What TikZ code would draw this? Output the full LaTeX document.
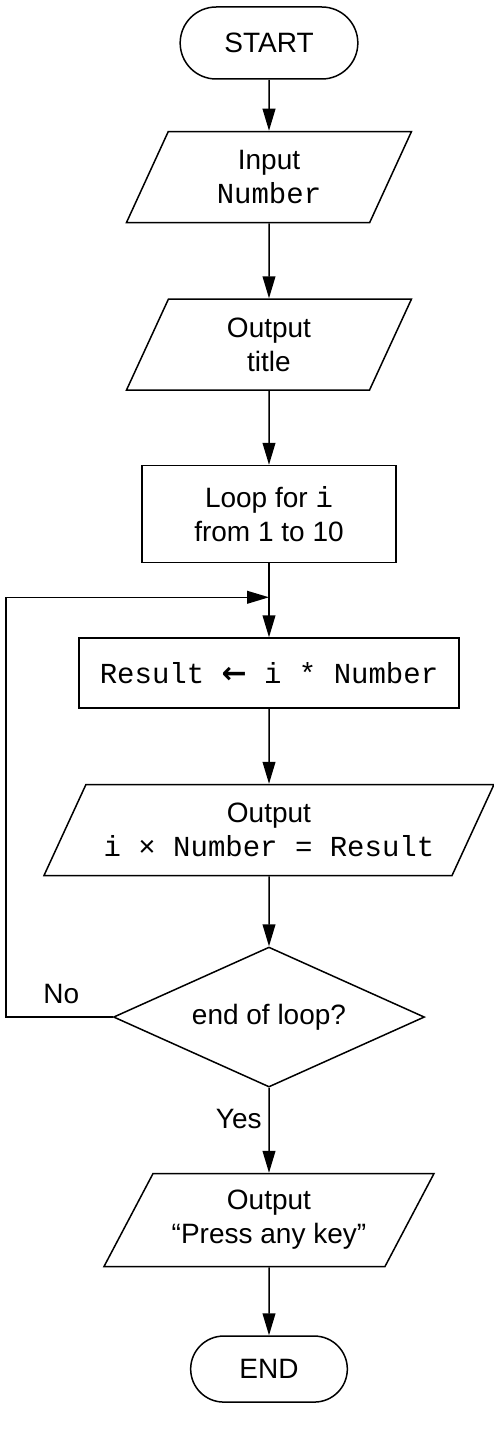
\documentclass[tikz,border=0pt]{standalone}
\usepackage{fontspec}
\setmainfont{Liberation Sans}
\setmonofont{Liberation Mono}
\newfontfamily\arrowfont{DejaVu Sans}
\usetikzlibrary{positioning,shapes.geometric,shapes.misc,arrows.meta}
\newcommand{\code}[1]{{\ttfamily\fontsize{14.5}{17}\selectfont #1}}
\newcommand{\getsarrow}{{\arrowfont\bfseries\fontsize{15}{17}\selectfont ←}}

\begin{document}
\begin{tikzpicture}[->,>={Triangle[length=11pt,width=6.4pt]},line width=0.75pt,
	font=\fontsize{14}{17}\selectfont,
	term node/.style={rounded rectangle,draw,minimum height=36pt,minimum width=95.5pt},
	io node/.style={trapezium,trapezium left angle=58,trapezium right angle=122,trapezium stretches body,draw,align=center,minimum height=45.5pt,minimum width=142.5pt},
	process node/.style={rectangle,draw,align=center},
	decision node/.style={diamond,draw,aspect=2.2,inner sep=0pt,minimum width=155.5pt,minimum height=70pt}]

	\useasboundingbox (0,0) rectangle (246.5pt,-714.5pt);

	\node[term node] (start) at (134.5pt,-21.5pt) {START};
	\node[io node] (input) [below=25.5pt of start] {Input\\\code{Number}};
	\node[io node] (title) [below=37.5pt of input] {Output\\title};
	\node[process node,minimum width=127pt,minimum height=48.5pt] (loop) [below=37pt of title] {Loop for \code{i}\\from 1 to 10};
	\node[process node,minimum width=190pt,minimum height=35pt] (result) [below=37pt of loop] {\code{Result \getsarrow{} i * Number}};
	\node[io node,minimum width=225pt] (show) [below=37.5pt of result] {Output\\\code{i × Number = Result}};
	\node[decision node] (check) [below=35pt of show] {end of loop?};
	\node[io node,minimum width=165pt,minimum height=46.5pt,trapezium left angle=56,trapezium right angle=124] (press) [below=42.5pt of check] {Output\\“Press any key”};
	\node[term node,minimum width=85pt,minimum height=33pt] (end) [below=34pt of press] {END};

	\coordinate[below=17pt of loop] (join);
	\coordinate[left=53.5pt of check.west] (back);

	\path
		(start) edge (input)
		(input) edge (title)
		(title) edge (loop)
		(loop) edge (result)
		(result) edge (show)
		(show) edge (check)
		(check) edge node [left,pos=0.37] {Yes} (press)
		(press) edge (end);

	\draw (check.west) -- node[above,pos=0.48,yshift=3pt] {No} (back) |- (join);

\end{tikzpicture}
\end{document}
